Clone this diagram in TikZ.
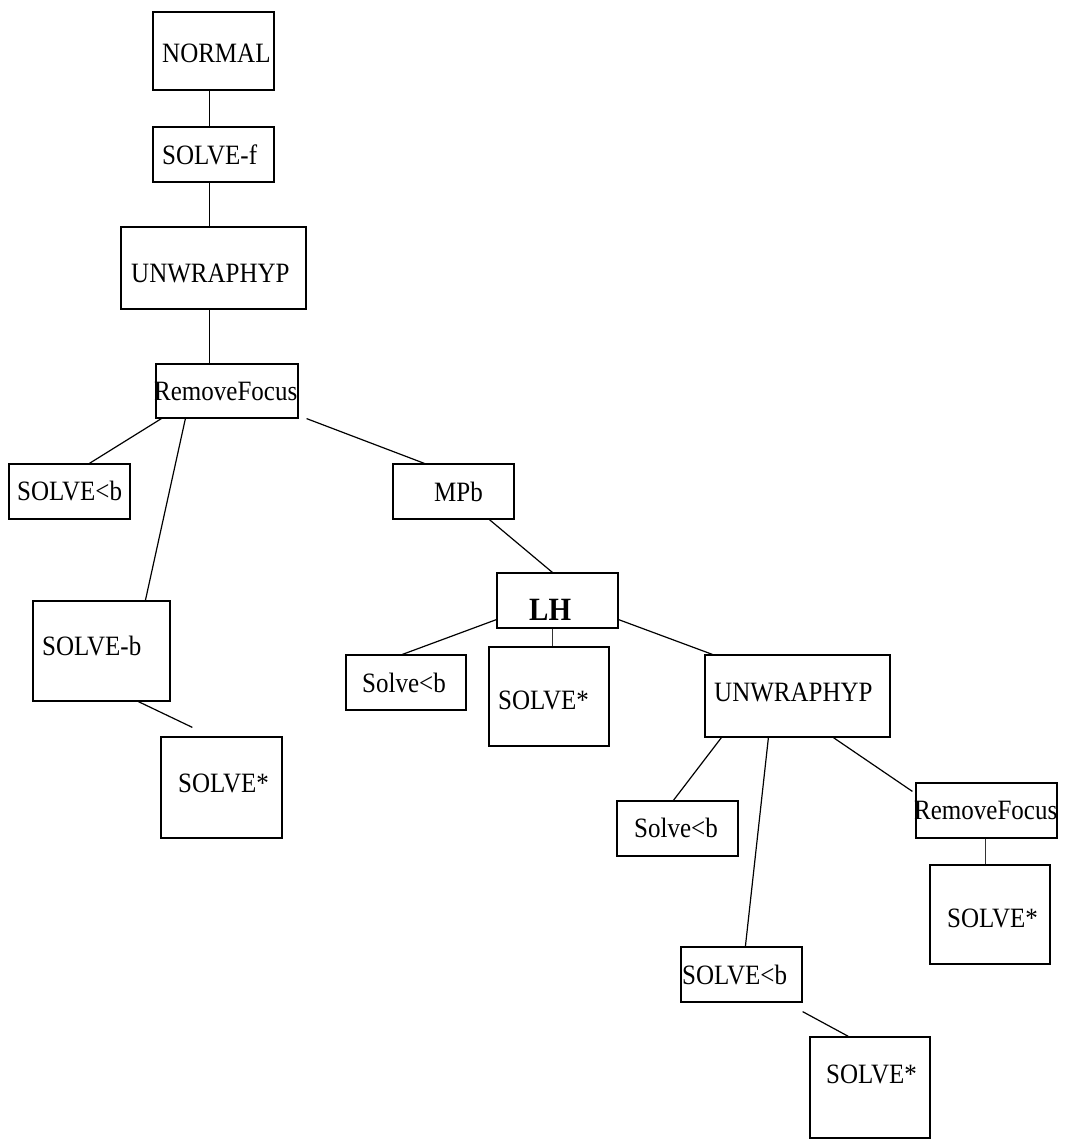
\documentclass[tikz,border=0pt]{standalone}
\usepackage{fontspec}
\usepackage{graphicx}
\setmainfont{Liberation Serif}
\usetikzlibrary{calc}
\newcommand{\tallt}[1]{\scalebox{1}[1.12]{#1}}
\tikzset{
  box/.style={draw=black, line width=1.2pt, inner sep=0pt, rectangle},
  txt/.style={inner sep=0pt, anchor=base west, font=\fontsize{25}{28}\selectfont},
  boldtxt/.style={inner sep=0pt, anchor=base west, font=\fontsize{29}{32}\selectfont\bfseries},
  link/.style={draw=black, line width=1.2pt},
  thinlink/.style={draw=black!80, line width=0.9pt}
}
% \mkbox{name}{x1}{y1}{x2}{y2}
\newcommand{\mkbox}[5]{%
  \node[box, minimum width={(#4)-(#2)}, minimum height={(#5)-(#3)}] (#1) at ({((#2)+(#4))/2},{((#3)+(#5))/2}) {};}
\begin{document}
\begin{tikzpicture}[x=1pt,y=-1pt]
\useasboundingbox (0,0) rectangle (1066,1140);

% boxes
\mkbox{nrm}{153}{12}{274}{90}
\mkbox{sf}{153}{127}{274}{182}
\mkbox{uwa}{121}{227}{306}{309}
\mkbox{rfa}{156}{364}{298}{418}
\mkbox{sla}{9}{464}{130}{519}
\mkbox{sb}{33}{601}{170}{701}
\mkbox{ssa}{161}{737}{282}{838}
\mkbox{mpb}{393}{464}{514}{519}
\mkbox{lh}{497}{573}{618}{628}
\mkbox{slb}{346}{655}{466}{710}
\mkbox{ssb}{489}{647}{609}{746}
\mkbox{uwb}{705}{655}{890}{737}
\mkbox{slc}{617}{801}{738}{856}
\mkbox{rfb}{916}{783}{1057}{838}
\mkbox{ssc}{930}{865}{1050}{964}
\mkbox{sld}{681}{947}{802}{1002}
\mkbox{ssd}{810}{1037}{930}{1138}

% texts
\node[txt] (nrmT) at (162,63) {\tallt{NORMAL}};
\node[txt] (sfT) at (162,164) {\tallt{SOLVE-f}};
\node[txt] (uwaT) at (131,282) {\tallt{UNWRAPHYP}};
\node[txt] (rfaT) at (154,400) {\tallt{RemoveFocus}};
\node[txt] (slaT) at (17,500) {\tallt{SOLVE<b}};
\node[txt] (sbT) at (42,655) {\tallt{SOLVE-b}};
\node[txt] (ssaT) at (178,792) {\tallt{SOLVE*}};
\node[txt] (mpbT) at (434,501) {\tallt{MPb}};
\node[boldtxt] (lhT) at (529,620) {\tallt{LH}};
\node[txt] (slbT) at (362,692) {\tallt{Solve<b}};
\node[txt] (ssbT) at (498,709) {\tallt{SOLVE*}};
\node[txt] (uwbT) at (714,701) {\tallt{UNWRAPHYP}};
\node[txt] (slcT) at (634,837) {\tallt{Solve<b}};
\node[txt] (rfbT) at (914,819) {\tallt{RemoveFocus}};
\node[txt] (sscT) at (947,927) {\tallt{SOLVE*}};
\node[txt] (sldT) at (682,984) {\tallt{SOLVE<b}};
\node[txt] (ssdT) at (826,1083) {\tallt{SOLVE*}};

% connectors
\draw[link] ($(nrm.south west)+(57,0)$) -- ($(sf.north west)+(57,0)$);
\draw[link] ($(sf.south west)+(57,0)$) -- ($(uwa.north west)+(89,0)$);
\draw[link] ($(uwa.south west)+(89,0)$) -- ($(rfa.north west)+(54,0)$);
\draw[link] ($(rfa.south west)+(6,0)$) -- ($(sla.north west)+(81,0)$);
\draw[link] ($(rfa.south west)+(30,0)$) -- ($(sb.north west)+(113,0)$);
\draw[link] ($(rfa.south east)+(8,0)$) -- ($(mpb.north west)+(32,0)$);
\draw[link] ($(sb.south west)+(106,0)$) -- ($(ssa.north west)+(32,-9)$);
\draw[link] ($(mpb.south west)+(97,0)$) -- ($(lh.north west)+(56,0)$);
\draw[link] ($(lh.south west)+(0,-9)$) -- ($(slb.north west)+(57,0)$);
\draw[thinlink] ($(lh.south west)+(56,0)$) -- ($(ssb.north west)+(64,0)$);
\draw[link] ($(lh.south east)+(0,-9)$) -- ($(uwb.north west)+(8,0)$);
\draw[link] ($(uwb.south west)+(17,0)$) -- ($(slc.north west)+(57,0)$);
\draw[link] ($(uwb.south west)+(64,0)$) -- ($(sld.north west)+(65,0)$);
\draw[link] ($(uwb.south west)+(129,0)$) -- ($(rfb.north west)+(-3,9)$);
\draw[thinlink] ($(rfb.south west)+(70,0)$) -- ($(ssc.north west)+(56,0)$);
\draw[link] ($(sld.south east)+(0,9)$) -- ($(ssd.north west)+(39,0)$);
\end{tikzpicture}
\end{document}
